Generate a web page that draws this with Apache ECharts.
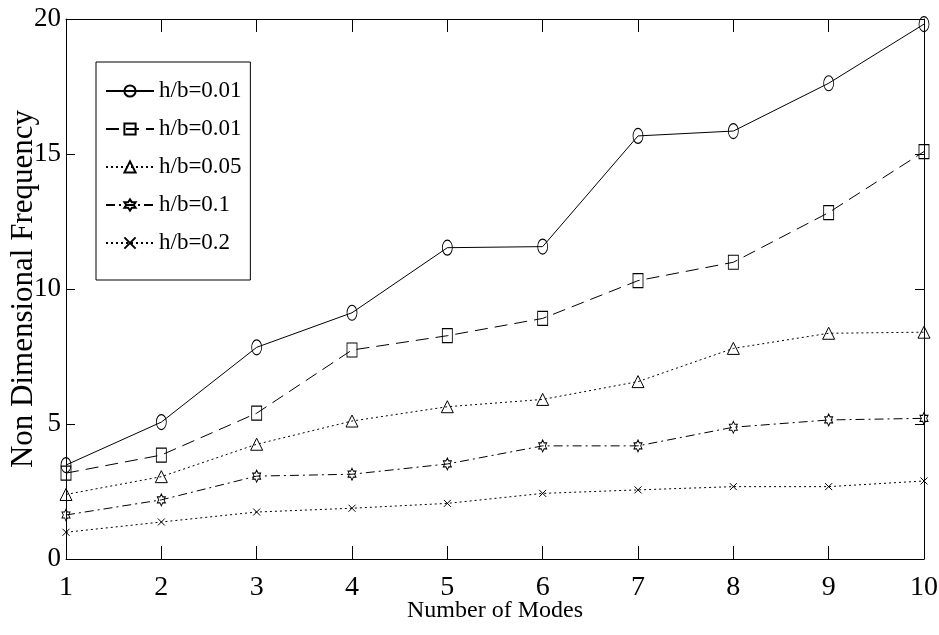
<!DOCTYPE html>
<html>
<head>
<meta charset="utf-8">
<script src="https://cdn.jsdelivr.net/npm/echarts@6/dist/echarts.min.js"></script>
<style>
  html, body { margin: 0; padding: 0; background: #fff; }
  #main { width: 939px; height: 635px; }
</style>
</head>
<body>
<div id="main"></div>
<script>
// modes on the x axis
const modes = [1, 2, 3, 4, 5, 6, 7, 8, 9, 10];
const seriesNames = ['h/b=0.01', 'h/b=0.01 ', 'h/b=0.05', 'h/b=0.1', 'h/b=0.2'];
const hb001a = [3.48, 5.07, 7.84, 9.12, 11.53, 11.57, 15.67, 15.85, 17.62, 19.81];
const hb001b = [3.18, 3.85, 5.40, 7.74, 8.27, 8.91, 10.31, 10.99, 12.83, 15.09];
const hb005 = [2.39, 3.05, 4.25, 5.11, 5.64, 5.91, 6.57, 7.80, 8.36, 8.40];
const hb01 = [1.63, 2.19, 3.07, 3.14, 3.52, 4.19, 4.19, 4.88, 5.15, 5.21];
const hb02 = [0.99, 1.37, 1.74, 1.88, 2.06, 2.43, 2.56, 2.68, 2.68, 2.89];
const yTicks = [0, 5, 10, 15, 20];

const font = 'Liberation Serif';
const ellipse = 'path://M0 50 A50 50 0 1 1 100 50 A50 50 0 1 1 0 50 Z';
const hexagram = 'path://M50 0 L64.4 25 L93.3 25 L78.9 50 L93.3 75 L64.4 75 L50 100 L35.6 75 L6.7 75 L21.1 50 L6.7 25 L35.6 25 Z';
const cross = 'path://M0 0 L100 100 M100 0 L0 100';

function pairs(vals) {
    return modes.map((m, i) => [m, vals[i]]);
}

function mkSeries(name, vals, symbol, size, dash) {
    return {
        name: name,
        type: 'line',
        data: pairs(vals),
        symbol: symbol,
        symbolSize: size,
        showAllSymbol: true,
        clip: false,
        z: 3,
        lineStyle: { color: '#000', width: 1, type: dash },
        itemStyle: { color: 'rgba(0,0,0,0)', borderColor: '#000', borderWidth: 1 },
        emphasis: { disabled: true }
    };
}

const chart = echarts.init(document.getElementById('main'));

const axisCommon = {
    axisLine: { show: true, onZero: false, lineStyle: { color: '#000', width: 1 } },
    splitLine: { show: false }
};

chart.setOption({
    animation: false,
    backgroundColor: '#fff',
    grid: { left: 66, right: 15, top: 19, bottom: 76, outerBoundsMode: 'none', containLabel: false },
    legend: {
        left: 96,
        top: 62,
        orient: 'vertical',
        data: seriesNames,
        itemWidth: 48,
        itemHeight: 14,
        itemGap: 14,
        padding: [17, 3, 25, 9],
        borderColor: '#000',
        borderWidth: 1,
        backgroundColor: '#fff',
        textStyle: { fontFamily: font, fontSize: 23, color: '#000', lineHeight: 24 }
    },
    xAxis: [
        Object.assign({
            type: 'value', min: 1, max: 10, interval: 1, position: 'bottom',
            name: 'Number of Modes', nameLocation: 'middle', nameGap: 40, nameMoveOverlap: false,
            nameTextStyle: { fontFamily: font, fontSize: 24, color: '#000' },
            axisTick: { show: true, inside: true, length: 13, lineStyle: { color: '#000' } },
            axisLabel: { fontFamily: font, fontSize: 28, color: '#000', margin: 15 }
        }, axisCommon),
        Object.assign({
            type: 'value', min: 1, max: 10, interval: 1, position: 'top',
            axisTick: { show: true, inside: true, length: 13, lineStyle: { color: '#000' } },
            axisLabel: { show: false }
        }, axisCommon)
    ],
    yAxis: [
        Object.assign({
            type: 'value', min: yTicks[0], max: yTicks[yTicks.length - 1], interval: 5, position: 'left',
            name: 'Non Dimensional Frequency', nameLocation: 'middle', nameGap: 27, nameMoveOverlap: false,
            nameTextStyle: { fontFamily: font, fontSize: 31, color: '#000' },
            axisTick: { show: true, inside: true, length: 9, lineStyle: { color: '#000' } },
            axisLabel: { fontFamily: font, fontSize: 27, color: '#000', margin: 5 }
        }, axisCommon),
        Object.assign({
            type: 'value', min: yTicks[0], max: yTicks[yTicks.length - 1], interval: 5, position: 'right',
            axisTick: { show: true, inside: true, length: 9, lineStyle: { color: '#000' } },
            axisLabel: { show: false }
        }, axisCommon)
    ],
    series: [
        mkSeries(seriesNames[0], hb001a, ellipse, [10, 15], 'solid'),
        mkSeries(seriesNames[1], hb001b, 'rect', [10, 14], [13, 7]),
        mkSeries(seriesNames[2], hb005, 'triangle', [12, 12], [2, 3]),
        mkSeries(seriesNames[3], hb01, hexagram, [8, 12], [9, 4, 2, 4]),
        mkSeries(seriesNames[4], hb02, cross, [7, 7], [2, 3])
    ]
});
</script>
</body>
</html>
